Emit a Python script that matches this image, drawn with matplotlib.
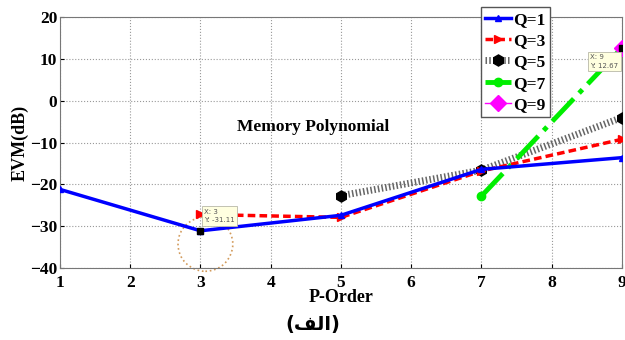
import matplotlib.pyplot as plt
from matplotlib.patches import Ellipse

# EVM (dB) per memory depth Q
q1_x = [1, 3, 5, 7, 9]
q1_evm = [-21.2, -31.11, -27.4, -16.4, -13.6]
q3_x = [3, 5, 7, 9]
q3_evm = [-27.2, -27.9, -16.8, -9.2]
q5_x = [5, 7, 9]
q5_evm = [-22.7, -16.6, -4.0]
q7_x = [7, 9]
q7_evm = [-22.8, 12.67]
q9_x = [9]
q9_evm = [12.67]

plt.rcParams['font.family'] = ['Liberation Serif', 'DejaVu Sans']
plt.rcParams['font.weight'] = 'bold'

fig = plt.figure(figsize=(6.25, 3.4), dpi=100)
ax = fig.add_axes([0.096, 0.212, 0.899, 0.737])

ax.plot(q1_x, q1_evm, '-^', color='blue', lw=2.5, ms=5, label='Q=1', zorder=5)
ax.plot(q3_x, q3_evm, color='red', lw=2.5, ls=(0, (2.2, 1.2)), marker='>', ms=6,
        label='Q=3', zorder=4)
ax.plot(q5_x, q5_evm, color='#666666', lw=5, ls=(0, (0.22, 0.32)), marker='h', ms=8,
        mfc='black', mec='black', label='Q=5', zorder=3)
ax.plot(q7_x, q7_evm, '-.', color='#00ee00', lw=3.5, marker='o', ms=6, label='Q=7', zorder=3)
ax.plot(q9_x, q9_evm, '-', color='magenta', lw=1, marker='D', ms=8, label='Q=9', zorder=4)

# data cursor markers
ax.plot([3], [q1_evm[1]], 's', color='black', ms=4, zorder=6)
ax.plot([9], [q9_evm[0]], 's', color='black', ms=4, zorder=6)
ax.add_patch(Ellipse((3.07, -34.3), 0.78, 13.0, fill=False, ls=':', lw=1.2,
                     edgecolor='#d29a5a', zorder=2, clip_on=False))
tip = dict(boxstyle='square,pad=0.35', fc='#ffffe0', ec='#b8b8a8', lw=0.6)
ax.text(3.05, -27.6, 'X: 3\nY: -31.11', fontsize=5, fontweight='normal',
        family='DejaVu Sans', color='#555555', va='center', linespacing=1.5,
        bbox=tip, zorder=7)
ax.text(8.55, 9.4, 'X: 9\nY: 12.67', fontsize=5, fontweight='normal',
        family='DejaVu Sans', color='#555555', va='center', linespacing=1.5,
        bbox=tip, zorder=7)

ax.text(3.52, -6.3, 'Memory Polynomial', fontsize=12.5, fontweight='bold', va='center')

ax.set_xlim(1, 9)
ax.set_ylim(-40, 20)
ax.set_xticks(range(1, 10))
ax.set_yticks(range(-40, 21, 10))
ax.tick_params(labelsize=12.5, direction='in', length=3)
ax.tick_params(axis='x', pad=5)
ax.tick_params(axis='y', pad=2)
for lbl in ax.get_xticklabels() + ax.get_yticklabels():
    lbl.set_fontweight('bold')
ax.grid(True, ls=':', color='#999999', lw=0.8)
for s in ax.spines.values():
    s.set_color('#777777')
ax.set_xlabel('P-Order', fontsize=13, fontweight='bold', labelpad=-1)
ax.set_ylabel('EVM(dB)', fontsize=13, fontweight='bold', labelpad=1)

leg = fig.legend(loc='upper left', bbox_to_anchor=(0.769, 0.979),
                 prop={'size': 12.5, 'weight': 'bold'},
                 handlelength=1.5, handletextpad=0.15, labelspacing=0.3,
                 borderpad=0.25, borderaxespad=0, fancybox=False,
                 edgecolor='#555555', framealpha=1)

# "(الف)" laid out with presentation forms, left to right
fig.text(0.5, 0.045, '(\uFED2\uFEDF\uFE8D)', ha='center', va='center',
         fontsize=14, fontweight='bold', family=['DejaVu Sans'])

fig.savefig('out.png', dpi=100)
